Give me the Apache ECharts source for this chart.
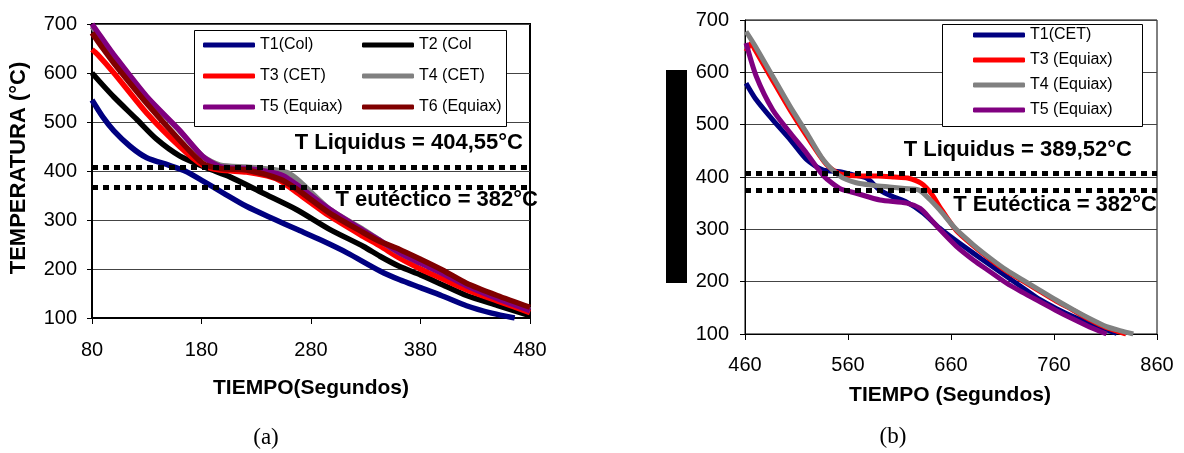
<!DOCTYPE html>
<html>
<head>
<meta charset="utf-8">
<script src="https://cdn.jsdelivr.net/npm/echarts@6/dist/echarts.min.js"></script>
<style>
html,body{margin:0;padding:0;background:#fff;}
#chart{width:1184px;height:453px;}
</style>
</head>
<body>
<div id="chart"></div>
<script>
// ---------- DATA (time s, temperature °C) ----------
// Chart (a)
const a_T1 = [[80,545],[90,510],[100,482],[115,450],[130,427],[150,412],[165,400],[181,380],[200,355],[221,328],[245,303],[267,281],[290,258],[313,233],[343,196],[361,178],[380,162],[400,145],[422,125],[445,110],[466,100]];
const a_T2 = [[80,600],[90,575],[100,551],[121,505],[139,465],[160,431],[185,406],[206,388],[236,355],[267,321],[297,281],[328,246],[343,226],[361,205],[380,188],[400,168],[422,146],[450,126],[480,105]];
const a_T3 = [[80,648],[85,638],[100,600],[130,518],[160,450],[181,412],[197,402],[221,398],[240,390],[252,380],[267,356],[297,308],[328,266],[343,247],[361,222],[380,200],[400,180],[422,158],[450,135],[480,111]];
const a_T4 = [[80,695],[100,635],[130,550],[160,482],[181,430],[197,412],[221,408],[245,403],[260,395],[270,378],[297,322],[328,280],[361,233],[400,192],[440,152],[480,116]];
const a_T5 = [[80,700],[90,668],[100,637],[130,552],[160,483],[181,430],[197,409],[221,405],[240,399],[255,390],[267,372],[297,322],[328,278],[343,258],[361,233],[380,212],[400,191],[422,166],[450,140],[480,115]];
const a_T6 = [[80,682],[90,650],[100,620],[130,538],[160,463],[181,416],[197,405],[221,402],[252,383],[267,363],[297,314],[328,274],[343,256],[361,240],[380,220],[400,198],[422,171],[450,146],[480,122]];
const a_names = ['T1(Col)','T2 (Col','T3 (CET)','T4 (CET)','T5 (Equiax)','T6 (Equiax)'];
const a_lines = [407, 367];
const a_notes = ['T Liquidus = 404,55°C','T eutéctico = 382°C'];

// Chart (b)
const b_T1 = [[461,579],[470,550],[487,509],[504,471],[520,433],[536,413],[552,410],[565,404],[578,398],[591,375],[604,362],[617,352],[633,331],[649,302],[665,278],[682,254],[698,232],[714,210],[730,188],[746,166],[762,149],[779,133],[800,116],[821,101]];
const b_T3 = [[461,640],[466,655],[470,642],[487,584],[504,527],[520,478],[539,424],[552,406],[573,402],[589,402],[605,400],[618,398],[631,388],[641,368],[649,343],[665,298],[682,268],[698,243],[714,220],[730,201],[746,182],[762,163],[779,145],[795,127],[811,112],[830,100]];
const b_T4 = [[461,678],[470,650],[487,592],[504,534],[520,484],[536,433],[552,402],[568,389],[585,384],[600,381],[615,378],[629,375],[639,358],[649,337],[665,300],[682,270],[698,245],[714,222],[730,203],[746,184],[762,165],[779,146],[795,129],[811,114],[825,106],[837,100]];
const b_T5 = [[461,656],[471,592],[487,528],[504,484],[520,445],[534,407],[539,397],[552,378],[568,369],[591,356],[617,350],[630,340],[640,320],[649,300],[665,268],[682,241],[698,219],[714,197],[730,179],[746,162],[762,145],[779,128],[795,113],[811,100]];
const b_names = ['T1(CET)','T3 (Equiax)','T4 (Equiax)','T5 (Equiax)'];
const b_lines = [407, 374];
const b_notes = ['T Liquidus = 389,52°C','T Eutéctica = 382°C'];

// Axes
const a_x = {min:80, max:480, interval:100};
const b_x = {min:460, max:860, interval:100};
const yRange = {min:100, max:700, interval:100};
const xTitleA = 'TIEMPO(Segundos)';
const xTitleB = 'TIEMPO (Segundos)';
const yTitleA = 'TEMPERATURA (°C)';
const captions = ['(a)','(b)'];

// ---------- STYLE ----------
const FONT = '"Liberation Sans", Arial, sans-serif';
const colA = ['#000080','#000000','#FF0000','#808080','#800080','#800000'];
const colB = ['#000080','#FF0000','#808080','#800080'];

function xAxisCfg(idx, r, lw, margin){
  return {type:'value', gridIndex:idx, min:r.min, max:r.max, interval:r.interval,
    axisLine:{show:true, lineStyle:{color:'#000', width:lw}},
    axisTick:{show:true, inside:false, length:6, lineStyle:{color:'#000', width:1}},
    axisLabel:{color:'#000', fontFamily:FONT, fontSize:20, margin:margin},
    splitLine:{show:false}};
}
function yAxisCfg(idx, lw, margin){
  return {type:'value', gridIndex:idx, min:yRange.min, max:yRange.max, interval:yRange.interval,
    axisLine:{show:true, lineStyle:{color:'#000', width:lw}},
    axisTick:{show:true, inside:false, length:5, lineStyle:{color:'#000', width:1}},
    axisLabel:{color:'#000', fontFamily:FONT, fontSize:20, margin:margin},
    splitLine:{show:true, lineStyle:{color:'#444', width:1}}};
}
function mk(values){
  return {symbol:'none', silent:true, label:{show:false},
    lineStyle:{color:'#000', width:5, type:[6,5], cap:'butt'},
    data: values.map(v => ({yAxis:v}))};
}
function ser(name, data, color, gi, lines, w){
  const s = {name:name, type:'line', xAxisIndex:gi, yAxisIndex:gi, data:data,
    showSymbol:false, symbol:'none', smooth:0.25,
    lineStyle:{color:color, width:w}, itemStyle:{color:color}, z:3};
  if (lines) s.markLine = mk(lines);
  return s;
}
const seriesA = [a_T1,a_T2,a_T3,a_T4,a_T5,a_T6].map((d,i)=>ser(a_names[i], d, colA[i], 0, i===0?a_lines:null, 5.5));
const seriesB = [b_T1,b_T3,b_T4,b_T5].map((d,i)=>ser(b_names[i], d, colB[i], 1, i===0?b_lines:null, 5));

function legendCfg(names, left, top, gap){
  return {data:names, orient:'vertical', left:left, top:top, padding:0, itemGap:gap,
    itemWidth:52, itemHeight:5, icon:'roundRect', selectedMode:false,
    textStyle:{color:'#000', fontFamily:FONT, fontSize:16, lineHeight:18}};
}

function txt(x, y, text, size, align, bold, family, rot){
  const el = {type:'text', x:x, y:y, silent:true, z:10,
    style:{text:text, fill:'#000', align:align, verticalAlign:'middle',
      font:(bold?'bold ':'') + size + 'px ' + (family||FONT)}};
  if (rot) el.rotation = rot;
  return el;
}

const option = {
  animation:false,
  backgroundColor:'#fff',
  grid:[
    {left:92, top:24, width:438, height:294, show:true, borderColor:'#000', borderWidth:2, backgroundColor:'transparent'},
    {left:745, top:20, width:412, height:314, show:true, borderColor:'#000', borderWidth:1, backgroundColor:'transparent'}
  ],
  xAxis:[xAxisCfg(0, a_x, 2, 22), xAxisCfg(1, b_x, 1, 21)],
  yAxis:[yAxisCfg(0, 2, 15), yAxisCfg(1, 1, 16)],
  legend:[
    legendCfg([a_names[0],a_names[2],a_names[4]], 203, 36, 13),
    legendCfg([a_names[1],a_names[3],a_names[5]], 362, 36, 13),
    legendCfg(b_names, 973, 26, 7)
  ],
  series: seriesA.concat(seriesB),
  graphic:[
    {type:'rect', shape:{x:194.5, y:30.5, width:312, height:96}, style:{fill:'#fff', stroke:'#000', lineWidth:1}, z:1, silent:true},
    {type:'rect', shape:{x:942.5, y:24.5, width:200, height:102}, style:{fill:'#fff', stroke:'#000', lineWidth:1}, z:1, silent:true},
    {type:'rect', shape:{x:666, y:70, width:21, height:213}, style:{fill:'#000'}, z:1, silent:true},
    txt(523, 143, a_notes[0], 22, 'right', true),
    txt(538, 200, a_notes[1], 22, 'right', true),
    txt(1132, 150, b_notes[0], 22, 'right', true),
    txt(1157, 205, b_notes[1], 22, 'right', true),
    txt(311, 388, xTitleA, 21, 'center', true),
    txt(950, 395, xTitleB, 21, 'center', true),
    txt(19, 168, yTitleA, 22, 'center', true, null, Math.PI/2),
    txt(266, 438, captions[0], 23, 'center', false, '"Liberation Serif", "Times New Roman", serif'),
    txt(893, 437, captions[1], 23, 'center', false, '"Liberation Serif", "Times New Roman", serif')
  ]
};
const chart = echarts.init(document.getElementById('chart'), null, {renderer:'canvas'});
chart.setOption(option);
</script>
</body>
</html>
